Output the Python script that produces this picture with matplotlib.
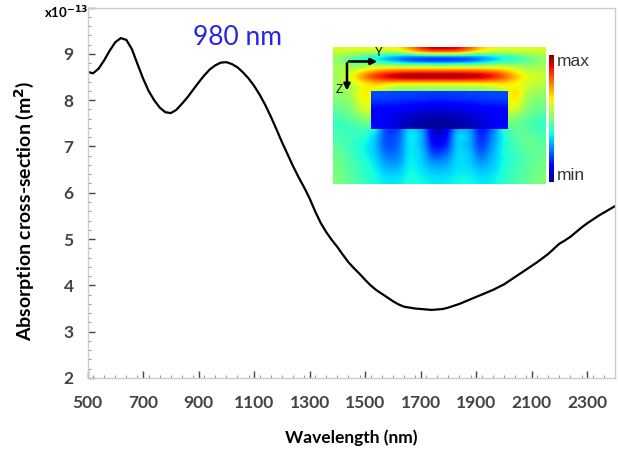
import matplotlib
matplotlib.use("Agg")
import matplotlib.pyplot as plt
import numpy as np
from matplotlib.ticker import MultipleLocator

# absorption spectrum (y in units of 1e-13 m^2)
wavelength = list(range(500, 2401, 20))
absorption = [8.61, 8.58, 8.68, 8.86, 9.07, 9.25, 9.34, 9.30, 9.10, 8.78,
              8.47, 8.20, 8.00, 7.84, 7.74, 7.72, 7.79, 7.92, 8.06, 8.22,
              8.38, 8.53, 8.66, 8.75, 8.81, 8.82, 8.78, 8.71, 8.60, 8.47,
              8.31, 8.12, 7.90, 7.65, 7.38, 7.10, 6.84, 6.58, 6.34, 6.12,
              5.88, 5.60, 5.35, 5.15, 4.98, 4.83, 4.66, 4.50, 4.37, 4.25,
              4.12, 4.00, 3.90, 3.82, 3.74, 3.66, 3.59, 3.54, 3.52, 3.50,
              3.49, 3.48, 3.47, 3.48, 3.49, 3.52, 3.56, 3.60, 3.65, 3.70,
              3.75, 3.80, 3.85, 3.90, 3.96, 4.02, 4.10, 4.18, 4.26, 4.34,
              4.42, 4.50, 4.59, 4.68, 4.79, 4.90, 4.97, 5.05, 5.15, 5.25,
              5.34, 5.42, 5.50, 5.57, 5.64, 5.71]

# inset field map (normalised |E|, 0 = min, 1 = max), coarse samples
field = [
    [0.60, 0.60, 0.60, 0.60, 0.60, 0.62, 0.70, 0.80, 0.86, 0.86, 0.84, 0.76, 0.66, 0.62, 0.60, 0.60, 0.60, 0.60],
    [0.52, 0.47, 0.42, 0.38, 0.32, 0.26, 0.21, 0.19, 0.18, 0.18, 0.19, 0.21, 0.26, 0.32, 0.38, 0.42, 0.47, 0.52],
    [0.55, 0.55, 0.58, 0.62, 0.64, 0.64, 0.64, 0.64, 0.64, 0.64, 0.64, 0.64, 0.64, 0.64, 0.62, 0.58, 0.55, 0.55],
    [0.55, 0.62, 0.74, 0.84, 0.90, 0.94, 0.96, 0.96, 0.96, 0.96, 0.96, 0.95, 0.93, 0.88, 0.80, 0.70, 0.62, 0.60],
    [0.55, 0.58, 0.64, 0.68, 0.66, 0.63, 0.62, 0.62, 0.62, 0.62, 0.62, 0.62, 0.63, 0.64, 0.66, 0.64, 0.60, 0.57],
    [0.52, 0.55, 0.65, 0.62, 0.55, 0.50, 0.50, 0.50, 0.50, 0.50, 0.50, 0.50, 0.50, 0.52, 0.60, 0.67, 0.56, 0.53],
    [0.50, 0.53, 0.63, 0.62, 0.60, 0.60, 0.60, 0.60, 0.60, 0.60, 0.60, 0.60, 0.60, 0.60, 0.62, 0.64, 0.53, 0.50],
    [0.47, 0.50, 0.58, 0.60, 0.58, 0.58, 0.58, 0.58, 0.58, 0.58, 0.58, 0.58, 0.58, 0.58, 0.60, 0.58, 0.50, 0.47],
    [0.43, 0.46, 0.50, 0.52, 0.50, 0.50, 0.50, 0.50, 0.50, 0.50, 0.50, 0.50, 0.50, 0.50, 0.52, 0.50, 0.46, 0.43],
    [0.42, 0.42, 0.44, 0.40, 0.22, 0.22, 0.35, 0.30, 0.12, 0.12, 0.30, 0.30, 0.17, 0.26, 0.42, 0.47, 0.45, 0.42],
    [0.44, 0.42, 0.40, 0.33, 0.20, 0.22, 0.35, 0.30, 0.10, 0.12, 0.32, 0.30, 0.17, 0.26, 0.38, 0.45, 0.47, 0.45],
    [0.45, 0.42, 0.38, 0.32, 0.21, 0.23, 0.35, 0.30, 0.14, 0.16, 0.32, 0.30, 0.19, 0.28, 0.38, 0.44, 0.47, 0.46],
    [0.47, 0.43, 0.38, 0.33, 0.24, 0.25, 0.35, 0.32, 0.20, 0.22, 0.33, 0.32, 0.23, 0.30, 0.38, 0.42, 0.46, 0.47],
    [0.48, 0.44, 0.40, 0.35, 0.28, 0.28, 0.36, 0.33, 0.27, 0.28, 0.34, 0.33, 0.28, 0.32, 0.38, 0.42, 0.46, 0.48],
    [0.49, 0.45, 0.41, 0.37, 0.32, 0.32, 0.37, 0.35, 0.32, 0.32, 0.35, 0.35, 0.32, 0.34, 0.39, 0.43, 0.46, 0.49],
    [0.50, 0.46, 0.42, 0.38, 0.35, 0.35, 0.38, 0.37, 0.35, 0.35, 0.37, 0.37, 0.35, 0.36, 0.40, 0.44, 0.47, 0.50],
]
block = [
    [0.19, 0.18, 0.17, 0.17, 0.18, 0.19],
    [0.12, 0.10, 0.08, 0.08, 0.10, 0.12],
    [0.11, 0.06, 0.03, 0.03, 0.06, 0.11],
]

fig = plt.figure(figsize=(6.18, 4.53), dpi=100)
ax = fig.add_axes([0.1416, 0.1656, 0.8534, 0.8178])

ax.plot(wavelength, absorption, color="black", lw=1.6)
ax.set_xlim(500, 2400)
ax.set_ylim(2, 10)
ax.set_xticks(range(500, 2400, 200))
ax.set_yticks(range(2, 11))
ax.set_yticklabels([str(v) for v in range(2, 10)] + [""])
ax.xaxis.set_minor_locator(MultipleLocator(40))
ax.yaxis.set_minor_locator(MultipleLocator(0.2))
ax.tick_params(which="both", direction="in", colors="#444444")
ax.tick_params(which="major", length=5, width=1)
ax.tick_params(which="minor", length=2.5, width=0.8, color="#999999")
ax.tick_params(axis="x", pad=12)
ax.tick_params(axis="y", pad=10)
for s in ax.spines.values():
    s.set_color("#cccccc")
    s.set_linewidth(1)
for lab in ax.get_xticklabels() + ax.get_yticklabels():
    lab.set_fontfamily("Lato")
    lab.set_fontweight("bold")
    lab.set_fontsize(12.5)

ax.set_xlabel("Wavelength (nm)", fontfamily="Lato", fontweight="bold", fontsize=12.5)
ax.set_ylabel("Absorption cross-section (m$\\mathbf{^2}$)", fontfamily="Lato",
              fontweight="bold", fontsize=14)
ax.xaxis.set_label_coords(0.5, -0.14)
ax.yaxis.set_label_coords(-0.098, 0.45)
fig.text(0.072, 0.972, "x10$^{\\mathbf{-13}}$", fontfamily="Lato", fontweight="bold",
         fontsize=9.5, ha="left", va="center")

ax.text(1042, 9.36, "980 nm", color="#2626e0", fontfamily="Lato", fontsize=19,
        ha="center", va="center")

# inset: field map
ins = fig.add_axes([0.5388, 0.5938, 0.3431, 0.3035])
ins.imshow(field, cmap="jet", vmin=0, vmax=1, extent=(0, 212, 138, 0),
           interpolation="catrom", interpolation_stage="data", aspect="auto")
ins.imshow(block, cmap="jet", vmin=0, vmax=1, extent=(38, 174, 83, 45),
           interpolation="catrom", interpolation_stage="data", aspect="auto")
ins.set_xlim(0, 212)
ins.set_ylim(138, 0)
ins.axis("off")
ins.annotate("", xy=(47, 15), xytext=(13, 15),
             arrowprops=dict(arrowstyle="-|>", color="black", lw=1.8, mutation_scale=9))
ins.annotate("", xy=(14, 47), xytext=(14, 14),
             arrowprops=dict(arrowstyle="-|>", color="black", lw=1.8, mutation_scale=9))
ins.text(46, 6, "Y", fontsize=8.5, fontfamily="Liberation Sans", ha="center", va="center")
ins.text(6, 44, "Z", fontsize=8.5, fontfamily="Liberation Sans", ha="center", va="center")

# inset colour bar
cb = fig.add_axes([0.8883, 0.5982, 0.0065, 0.2804])
cb.imshow(np.linspace(1, 0, 100).reshape(-1, 1), cmap="jet", aspect="auto")
cb.axis("off")
fig.text(0.901, 1 - 61 / 453, "max", fontsize=12.5, fontfamily="Liberation Sans",
         color="#333333", ha="left", va="center")
fig.text(0.901, 1 - 175 / 453, "min", fontsize=12.5, fontfamily="Liberation Sans",
         color="#333333", ha="left", va="center")

fig.savefig("out.png", dpi=100)
